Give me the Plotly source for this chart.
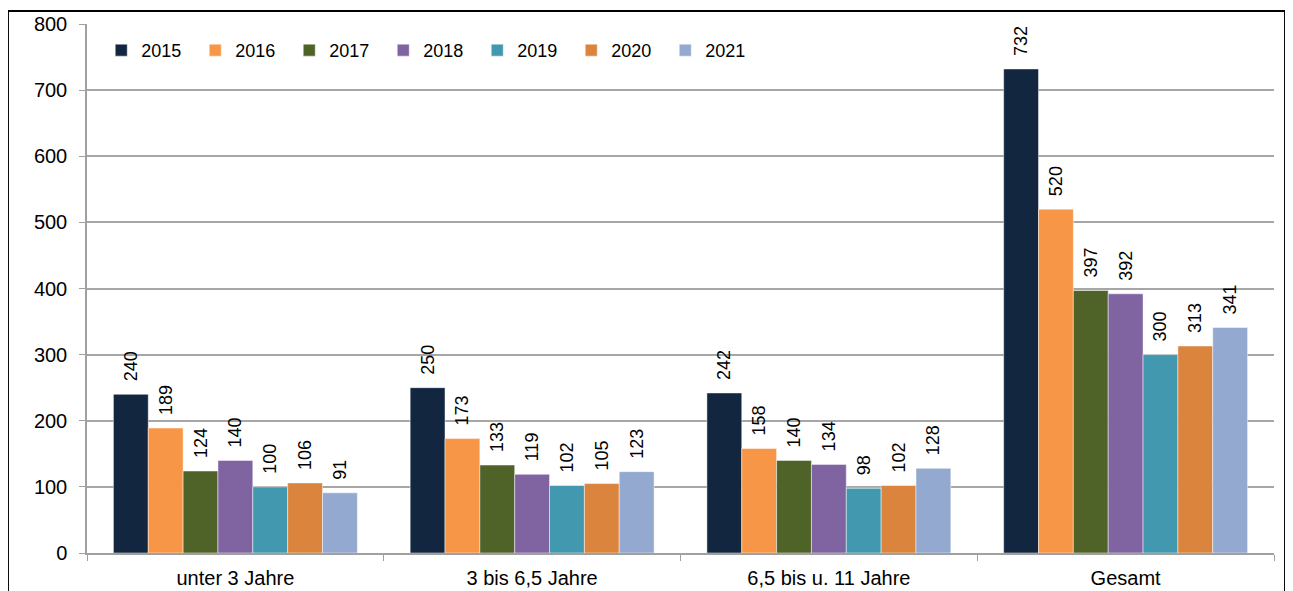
import plotly.graph_objects as go

categories = ["unter 3 Jahre", "3 bis 6,5 Jahre", "6,5 bis u. 11 Jahre", "Gesamt"]
years = ["2015", "2016", "2017", "2018", "2019", "2020", "2021"]
values = {
    "2015": [240, 250, 242, 732],
    "2016": [189, 173, 158, 520],
    "2017": [124, 133, 140, 397],
    "2018": [140, 119, 134, 392],
    "2019": [100, 102, 98, 300],
    "2020": [106, 105, 102, 313],
    "2021": [91, 123, 128, 341],
}
colors = {
    "2015": "#12263f",
    "2016": "#f79646",
    "2017": "#4f6228",
    "2018": "#8064a2",
    "2019": "#4198af",
    "2020": "#db843d",
    "2021": "#93a9cf",
}

FONT = "Arial, Liberation Sans, sans-serif"

fig = go.Figure()
for y in years:
    fig.add_trace(
        go.Bar(
            x=categories,
            y=values[y],
            name=y,
            marker=dict(color=colors[y], line=dict(color="rgba(255,255,255,0.6)", width=0.8)),
            # leading non-breaking spaces keep the label clear of the bar top
            texttemplate="\u00a0\u00a0%{y}",
            textposition="outside",
            textangle=-90,
            constraintext="none",
            textfont=dict(family=FONT, size=18, color="#000000"),
            cliponaxis=False,
        )
    )

fig.update_layout(
    width=1293,
    height=591,
    barmode="group",
    bargap=0.178,
    bargroupgap=0,
    plot_bgcolor="white",
    paper_bgcolor="white",
    margin=dict(l=79, r=27, t=16, b=46),
    font=dict(family=FONT, size=20, color="#000000"),
    legend=dict(
        orientation="h",
        x=0.012,
        y=0.985,
        xanchor="left",
        yanchor="top",
        font=dict(size=18),
        entrywidth=49,
        entrywidthmode="pixels",
        bgcolor="rgba(0,0,0,0)",
    ),
    shapes=[
        dict(
            type="rect",
            xref="paper",
            yref="paper",
            x0=-0.0666,
            x1=1.0093,
            y0=-0.2,
            y1=1.0246,
            line=dict(color="#000000", width=2),
            fillcolor="rgba(0,0,0,0)",
            layer="above",
        )
    ],
)
fig.update_yaxes(
    range=[0, 800],
    dtick=100,
    automargin=False,
    showgrid=True,
    gridcolor="#a6a6a6",
    gridwidth=1.5,
    showline=True,
    linecolor="#a0a0a0",
    linewidth=1.5,
    ticks="outside",
    ticklen=6,
    tickcolor="#a0a0a0",
    ticklabelstandoff=8,
    zeroline=False,
)
fig.update_xaxes(
    automargin=False,
    showline=True,
    linecolor="#a0a0a0",
    linewidth=2,
    ticks="outside",
    tickson="boundaries",
    ticklen=6,
    tickcolor="#a0a0a0",
    ticklabelstandoff=6,
)

fig.write_html("out.html")
